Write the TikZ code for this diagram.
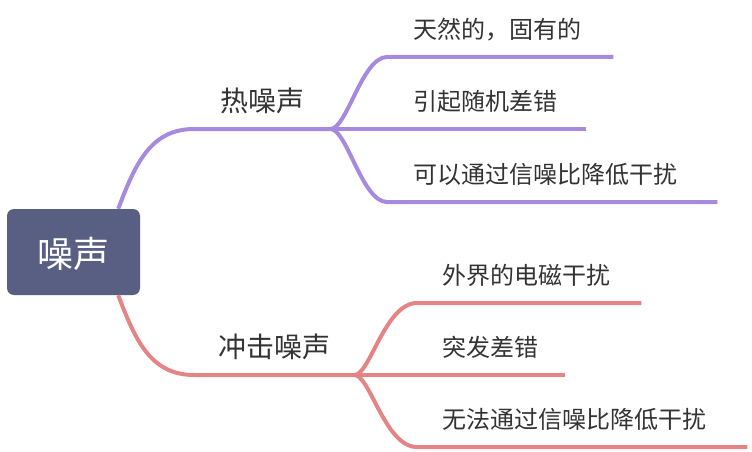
\documentclass[tikz,border=0pt]{standalone}
\usepackage{fontspec}
\newfontfamily\cjk{Noto Sans CJK SC}
\usepackage{tikz}

\definecolor{rootfill}{HTML}{585F82}
\definecolor{hotcol}{HTML}{A68ADF}
\definecolor{impcol}{HTML}{E48585}
\definecolor{txt}{HTML}{333333}

\begin{document}
\begin{tikzpicture}[
		x=1pt, y=-1pt,
		every node/.style={font=\cjk, text=txt, text depth=0pt},
		root/.style={rectangle, rounded corners=7pt, fill=rootfill, text=white, minimum width=133pt, minimum height=86pt, font=\cjk\fontsize{36}{40}\selectfont},
		branch/.style={anchor=south west, inner xsep=24pt, inner ysep=17pt, font=\cjk\fontsize{28}{32}\selectfont},
		leaf/.style={anchor=south west, inner ysep=18pt, align=left, font=\cjk\fontsize{24}{28}\selectfont},
		hotline/.style={draw=hotcol, line width=4pt, line join=round},
		impline/.style={draw=impcol, line width=4pt, line join=round}
	]
  \useasboundingbox (0,0) rectangle (752,452);
  \node (root) [root] at (73.5, 252) {噪声};
  \node (hot) [branch, minimum width=136pt] at (194, 129) {热噪声};
  \node (imp) [branch] at (194, 375) {冲击噪声};
  \node (hot_a) [leaf, inner xsep=26pt, text width=174pt] at (387, 57) {天然的，固有的};
  \node (hot_b) [leaf, inner xsep=26pt, text width=147pt] at (387, 129) {引起随机差错};
  \node (hot_c) [leaf, inner xsep=26pt, text width=278pt] at (387, 202) {可以通过信噪比降低干扰};
  \node (imp_a) [leaf, inner xsep=25pt, text width=174pt] at (417, 303) {外界的电磁干扰};
  \node (imp_b) [leaf, inner xsep=25pt, text width=98pt] at (417, 375) {突发差错};
  \node (imp_c) [leaf, inner xsep=25pt, text width=280pt] at (417, 447) {无法通过信噪比降低干扰};
  \draw [hotline] ([xshift=-22pt]root.north east) .. controls (135, 165) and (150, 129) .. (hot.south west) -- (hot.south east);
  \draw [hotline] (hot.south east) .. controls (347, 129) and (362, 57) .. (hot_a.south west) -- (hot_a.south east);
  \draw [hotline] (hot.south east) -- (hot_b.south west) -- (hot_b.south east);
  \draw [hotline] (hot.south east) .. controls (347, 129) and (362, 202) .. (hot_c.south west) -- (hot_c.south east);
  \draw [impline] ([xshift=-22pt]root.south east) .. controls (135, 339) and (150, 375) .. (imp.south west) -- (imp.south east);
  \draw [impline] (imp.south east) .. controls (370, 375) and (385, 303) .. (imp_a.south west) -- (imp_a.south east);
  \draw [impline] (imp.south east) -- (imp_b.south west) -- (imp_b.south east);
  \draw [impline] (imp.south east) .. controls (370, 375) and (385, 447) .. (imp_c.south west) -- (imp_c.south east);
\end{tikzpicture}
\end{document}
